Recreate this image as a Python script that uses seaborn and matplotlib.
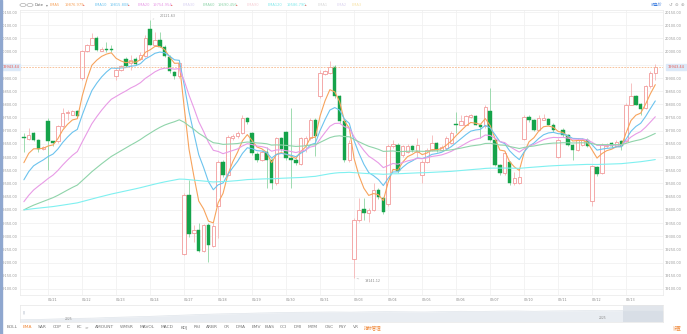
import numpy as np
import pandas as pd
import matplotlib
matplotlib.use("Agg")
import matplotlib.pyplot as plt
import seaborn as sns

sns.set_theme(style="white")
plt.rcParams['font.family'] = ['DejaVu Sans', 'Noto Sans CJK SC']

# ---------------- data ----------------
day_labels = ['01/21', '01/22', '01/23', '01/24', '01/27', '01/28', '01/29', '01/30', '01/31',
              '02/03', '02/04', '02/05', '02/06', '02/07', '02/10', '02/11', '02/12', '02/13']

opens = [19676, 19670, 19692, 19666, 19631, 19736, 19660, 19660, 19717, 19768,
         19761, 19774, 19901, 20002, 20027, 20053, 20002, 20011, 20011, 19907,
         19930, 19973, 19958, 19973, 19973, 19983, 20087, 20027, 20046, 20019,
         19981, 19922, 19907, 19233, 19457, 19313, 19322, 19245, 19343, 19264,
         19416, 19580, 19533, 19673, 19679, 19692, 19749, 19692, 19613, 19590,
         19618, 19590, 19502, 19673, 19694, 19597, 19590, 19575, 19647, 19673,
         19742, 19831, 19917, 19920, 19941, 19831, 19736, 19590, 19213, 19362,
         19403, 19389, 19400, 19474, 19445, 19423, 19644, 19647, 19609, 19621,
         19644, 19618, 19531, 19583, 19628, 19654, 19628, 19635, 19654, 19727,
         19723, 19723, 19754, 19755, 19723, 19717, 19774, 19666, 19571, 19541,
         19580, 19502, 19502, 19670, 19753, 19742, 19704, 19742, 19745, 19723,
         19602, 19704, 19685, 19647, 19628, 19647, 19666, 19432, 19561, 19540,
         19641, 19655, 19644, 19660, 19660, 19799, 19831, 19803, 19787, 19869,
         19920]
highs = [19693, 19712, 19697, 19670, 19644, 19750, 19663, 19723, 19788, 19780,
         19780, 19780, 20008, 20031, 20069, 20058, 20016, 20035, 20027, 19940,
         19951, 19978, 19989, 19978, 19997, 20062, 20121, 20073, 20073, 20024,
         19986, 19928, 19963, 19465, 19514, 19343, 19351, 19347, 19351, 19351,
         19590, 19590, 19685, 19689, 19700, 19761, 19754, 19697, 19621, 19628,
         19640, 19598, 19678, 19678, 19700, 19788, 19598, 19678, 19681, 19750,
         19750, 19932, 19932, 19964, 19948, 19837, 19742, 19666, 19370, 19446,
         19446, 19408, 19503, 19484, 19450, 19651, 19666, 19655, 19647, 19651,
         19647, 19674, 19590, 19636, 19685, 19659, 19647, 19681, 19700, 19773,
         19758, 19761, 19765, 19761, 19727, 19799, 19863, 19670, 19575, 19625,
         19587, 19545, 19552, 19761, 19761, 19746, 19758, 19765, 19750, 19731,
         19674, 19712, 19689, 19651, 19674, 19674, 19674, 19571, 19568, 19655,
         19655, 19659, 19666, 19666, 19807, 19882, 19837, 19807, 19875, 19925,
         19955]
lows = [19621, 19666, 19663, 19621, 19628, 19552, 19644, 19655, 19712, 19742,
        19758, 19750, 19894, 19997, 20024, 20001, 20001, 19997, 19997, 19892,
        19925, 19940, 19932, 19948, 19970, 19978, 20024, 20024, 20016, 19978,
        19921, 19898, 19902, 19229, 19298, 19279, 19241, 19241, 19204, 19260,
        19294, 19526, 19530, 19666, 19674, 19689, 19727, 19609, 19583, 19587,
        19484, 19480, 19495, 19625, 19590, 19484, 19571, 19571, 19621, 19666,
        19603, 19826, 19913, 19917, 19826, 19731, 19583, 19583, 19141, 19355,
        19362, 19355, 19397, 19442, 19385, 19416, 19636, 19541, 19602, 19617,
        19621, 19602, 19502, 19579, 19625, 19621, 19625, 19632, 19651, 19693,
        19720, 19720, 19750, 19720, 19674, 19712, 19663, 19568, 19533, 19533,
        19495, 19495, 19499, 19666, 19735, 19700, 19700, 19739, 19720, 19697,
        19598, 19678, 19644, 19590, 19625, 19644, 19640, 19413, 19530, 19537,
        19636, 19636, 19640, 19628, 19655, 19796, 19796, 19761, 19784, 19864,
        19894]
closes = [19672, 19685, 19666, 19632, 19637, 19660, 19654, 19717, 19768, 19769,
          19774, 19755, 20002, 20027, 20053, 20006, 20011, 20008, 20006, 19932,
          19945, 19945, 19970, 19955, 19989, 20053, 20027, 20046, 20019, 19983,
          19926, 19907, 19958, 19457, 19309, 19324, 19245, 19343, 19265, 19337,
          19580, 19533, 19677, 19679, 19692, 19749, 19732, 19616, 19590, 19618,
          19590, 19502, 19673, 19631, 19597, 19590, 19578, 19673, 19674, 19742,
          19681, 19920, 19926, 19941, 19831, 19736, 19590, 19655, 19362, 19400,
          19388, 19400, 19476, 19449, 19390, 19644, 19651, 19546, 19641, 19644,
          19628, 19647, 19583, 19628, 19654, 19628, 19640, 19673, 19692, 19723,
          19736, 19755, 19758, 19723, 19715, 19791, 19666, 19571, 19540, 19617,
          19502, 19522, 19523, 19753, 19740, 19704, 19749, 19749, 19723, 19704,
          19666, 19685, 19647, 19628, 19666, 19666, 19644, 19565, 19536, 19647,
          19647, 19641, 19659, 19641, 19799, 19831, 19799, 19783, 19869, 19920,
          19943.44]

ema_periods = [5, 10, 20, 60, 240]
ema_seeds = [19579, 19514, 19431, 19400, 19400]
ema_names = ['EMA5', 'EMA10', 'EMA20', 'EMA60', 'EMA120']
ema_colors = ['#f7a35c', '#6cc3ee', '#e89be6', '#8fd4aa', '#7ff0f0']

y_ticks = list(range(19100, 20151, 50))
last_price = 19943.44
high_label = '20121.63'
low_label = '19141.12'

legend_items = [('EMA5', '19876.979', '#f7a35c'), ('EMA10', '19815.808', '#6cc3ee'),
                ('EMA20', '19754.954', '#e89be6'), ('EMA30', '', '#d9d2f2'),
                ('EMA60', '19690.456', '#8fd4aa'), ('EMA90', '', '#f6cfd6'),
                ('EMA120', '19586.790', '#7fe8ea'), ('EMA1', '', '#d8d8d8'),
                ('EMA2', '', '#ddd5f0'), ('EMA3', '', '#f7e3a8')]

toolbar = ['BOLL', 'EMA', 'SAR', 'CDP', 'IC', 'KC', '>', 'AMOUNT', 'WMSR', 'MAVOL', 'MACD',
           'KDJ', 'RSI', 'ARBR', 'CR', 'DMA', 'EMV', 'BIAS', 'CCI', 'DMI', 'MTM', 'OSC',
           'PSY', 'VR', '指标管理']

nav_vals = [10, 12, 15, 18, 20, 24, 27, 30, 34, 38, 42, 45, 47, 50, 52, 54, 55, 56, 55, 57,
            58, 57, 56, 58, 60, 59, 61, 62, 60, 62, 63, 64, 63, 64, 65, 64]

# ---------------- figure ----------------
W, H = 687, 334
fig = plt.figure(figsize=(W / 100, H / 100), dpi=100)


def fx(x):
    return x / W


def fy(y):
    return 1 - y / H


L, R, T, B = 20, 663, 9.5, 295
ax = fig.add_axes([fx(L), fy(B), fx(R) - fx(L), fy(T) - fy(B)])
n = len(closes)
idx = np.arange(n)
df = pd.DataFrame({'i': idx, 'open': opens, 'high': highs, 'low': lows, 'close': closes})

PINK = '#f29b9b'
PINK_W = '#f6b7b7'
GREEN = '#15a34a'
GREEN_W = '#8fd6a4'

up = df['close'] >= df['open']
ax.vlines(df.loc[up, 'i'], df.loc[up, 'low'], df.loc[up, 'high'], color=PINK_W, lw=0.6, zorder=3)
ax.vlines(df.loc[~up, 'i'], df.loc[~up, 'low'], df.loc[~up, 'high'], color=GREEN_W, lw=0.6, zorder=3)
bw = 0.72
body_lo = np.minimum(df['open'], df['close'])
body_h = np.maximum(np.abs(df['close'] - df['open']), 2.5)
ax.bar(df.loc[up, 'i'], body_h[up], bottom=body_lo[up], width=bw, color='white',
       edgecolor=PINK, linewidth=0.6, zorder=4)
ax.bar(df.loc[~up, 'i'], body_h[~up], bottom=body_lo[~up], width=bw, color=GREEN,
       edgecolor=GREEN, linewidth=0.3, zorder=4)

# EMA lines
for name, p, s, c in zip(ema_names, ema_periods, ema_seeds, ema_colors):
    a = 2.0 / (p + 1)
    e = [s]
    for v in closes[1:]:
        e.append(a * v + (1 - a) * e[-1])
    sns.lineplot(x=idx, y=e, color=c, lw=0.8, ax=ax, zorder=5)

ax.axhline(last_price, color='#f7b98c', lw=0.6, ls=(0, (2, 1.5)), zorder=6)

x0 = -0.8
ax.set_xlim(x0, x0 + (R - L) / 4.857)
ax.set_ylim(19077, 20160)
ax.set_yticks(y_ticks)
# the 19950 label sits under the last-price tag
ax.set_yticklabels(['' if abs(v - last_price) < 20 else f'{v:.2f}' for v in y_ticks])
day_ticks = [5 + 7 * k for k in range(len(day_labels))]
ax.set_xticks(day_ticks)
ax.set_xticklabels(day_labels)
ax.tick_params(axis='y', labelleft=True, labelright=True, length=0, labelsize=2.5,
               labelcolor='#9a9a9a', pad=1.5)
ax.tick_params(axis='x', length=0, labelsize=2.4, labelcolor='#8a8a8a', pad=2.5)
for lab in ax.get_xticklabels():
    lab.set_horizontalalignment('left')
ax.grid(True, color='#f1f1f1', lw=0.6)
ax.set_axisbelow(True)
for sp in ax.spines.values():
    sp.set_color('#ececec')
    sp.set_linewidth(0.6)

# price tags
yp = 67.0
for xl, xr in [(1.5, 20), (666, 686)]:
    fig.patches.append(plt.Rectangle((fx(xl), fy(69.5)), fx(xr - xl), fy(64.5) - fy(69.5),
                                     transform=fig.transFigure, color='#dce9f8', zorder=1))
    fig.text(fx((xl + xr) / 2), fy(yp), f'{last_price:.2f}', fontsize=2.5, color='#e8574f',
             ha='center', va='center')

# high / low annotations
ih = int(np.argmax(highs))
il = int(np.argmin(lows))
ax.annotate(high_label, xy=(ih, highs[ih]), xytext=(ih + 2.0, highs[ih] + 16), fontsize=2.4,
            color='#8a8a8a', va='center', arrowprops=dict(arrowstyle='-', color='#bbbbbb', lw=0.4))
ax.annotate(low_label, xy=(il, lows[il]), xytext=(il + 2.2, lows[il] - 12), fontsize=2.4,
            color='#8a8a8a', va='center', arrowprops=dict(arrowstyle='-', color='#bbbbbb', lw=0.4))

# ---------------- top toolbar ----------------
for cx in (23, 30):
    fig.patches.append(matplotlib.patches.Circle((fx(cx), fy(5)), 0.0045, transform=fig.transFigure,
                                                 fill=False, ec='#9a9a9a', lw=0.4))
fig.text(fx(35), fy(5), 'Date', fontsize=2.7, color='#666666', va='center')
fig.text(fx(46), fy(5), '▾', fontsize=2.7, color='#888888', va='center')
xpos = [50, 95, 138, 183, 203, 247, 268, 318, 337, 352]
for (nm, val, col), xp in zip(legend_items, xpos):
    fig.text(fx(xp), fy(5), nm, fontsize=2.6, color=col, va='center')
    if val:
        fig.text(fx(xp + 15 if len(nm) < 6 else xp + 19), fy(5), val, fontsize=2.6, color=col,
                 va='center')
        fig.text(fx(xp + 33 if len(nm) < 6 else xp + 37), fy(5), '▴', fontsize=2.2, color='#e8574f',
                 va='center')
fig.text(fx(651), fy(5), '收盘价', fontsize=2.8, color='#3b7de0', va='center')
for cx, s in [(670, '↺'), (676, '⊖'), (682, '⊕')]:
    fig.text(fx(cx), fy(5), s, fontsize=3.2, color='#aaaaaa', va='center', ha='center')

# ---------------- navigator ----------------
nav = fig.add_axes([fx(L), fy(321.5), fx(R) - fx(L), fy(304.5) - fy(321.5)])
nx = np.arange(len(nav_vals))
nav.fill_between(nx, 0, nav_vals, color='#e9edf2', lw=0)
sns.lineplot(x=nx, y=nav_vals, color='#dfe4ea', lw=0.5, ax=nav)
nav.set_xlim(0, len(nav_vals) - 1)
nav.set_ylim(0, 100)
nav.axvspan(len(nav_vals) - 1 - 2.2, len(nav_vals) - 1, color='#cdd5de', alpha=0.6, lw=0)
nav.set_xticks([])
nav.set_yticks([])
for sp in nav.spines.values():
    sp.set_color('#e6e6e6')
    sp.set_linewidth(0.5)
fig.text(fx(69), fy(319), '2025', fontsize=2.2, color='#888888', ha='center', va='center')
fig.text(fx(603), fy(318), '2025', fontsize=2.2, color='#888888', ha='center', va='center')
fig.text(fx(24.5), fy(312), '|||', fontsize=2.2, color='#8a9ab0', ha='center', va='center')

# ---------------- bottom toolbar ----------------
tb_x = [12, 27.7, 42.5, 57, 68.7, 79, 86.7, 105, 126.7, 147.5, 166.7, 183.8, 196.7, 211.7,
        226.7, 240.5, 256.7, 270, 283.3, 297.5, 312.8, 329, 343, 355.8, 373]
for name, xc in zip(toolbar, tb_x):
    col = '#f08a3c' if name in ('EMA', '指标管理') else '#777777'
    fig.text(fx(xc), fy(327.5), name, fontsize=3.2, color=col, ha='center', va='center')
fig.text(fx(677.5), fy(327.5), '设置', fontsize=3.2, color='#f08a3c', ha='center', va='center')

fig.patches.append(plt.Rectangle((0, 0), fx(1.5), 1, transform=fig.transFigure, color='#8fa7cf'))

fig.savefig('out.png', dpi=100)
